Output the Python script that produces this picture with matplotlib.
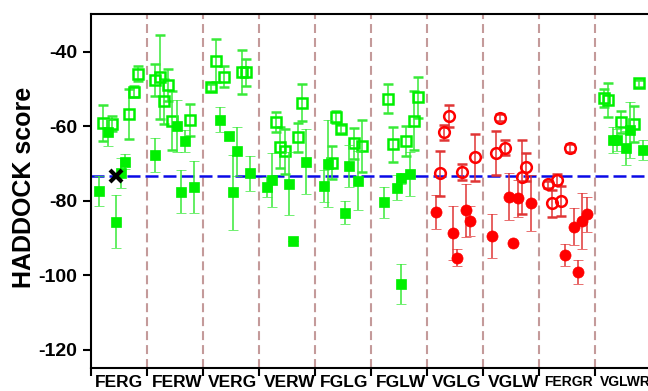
import numpy as np
import matplotlib
matplotlib.use("Agg")
import matplotlib.pyplot as plt
import matplotlib.transforms as mtrans

plt.rcParams['font.family'] = ['Liberation Sans', 'DejaVu Sans']
plt.rcParams['axes.unicode_minus'] = False

groups = ["FERG", "FERW", "VERG", "VERW", "FGLG", "FGLW", "VGLG", "VGLW", "FERGR", "VGLWR"]
group_kind = ["g", "g", "g", "g", "g", "g", "r", "r", "r", "g"]

# slot index (0-9) of each run inside its group
open_slot = [[1, 3, 7, 8, 9], [0, 1, 2, 3, 4, 8], [0, 1, 3, 7, 8], [2, 3, 4, 7, 8],
             [2, 3, 4, 7, 9], [2, 3, 6, 8, 9], [1, 2, 3, 6, 9], [1, 2, 3, 7, 8],
             [0, 1, 2, 3, 5], [0, 1, 4, 7, 8]]
open_score = [[-59.2, -59.4, -56.7, -50.8, -45.9],
              [-47.6, -46.8, -53.3, -48.9, -58.5, -58.3],
              [-49.6, -42.4, -46.7, -45.5, -45.6],
              [-58.8, -65.7, -66.8, -63.0, -53.7],
              [-69.8, -57.6, -60.8, -64.6, -65.3],
              [-52.6, -64.9, -63.9, -58.5, -52.3],
              [-72.7, -61.7, -57.2, -72.3, -68.4],
              [-67.2, -57.7, -65.8, -73.7, -70.9],
              [-75.6, -80.7, -74.4, -80.1, -65.9],
              [-52.5, -53.0, -58.9, -59.4, -48.5]]
open_err = [[4.8, 2.0, 6.7, 1.5, 2.0],
            [4.3, 11.3, 6.0, 4.3, 8.0, 4.3],
            [1.0, 5.7, 2.9, 6.0, 3.5],
            [2.7, 5.6, 6.0, 3.9, 5.0],
            [4.5, 1.6, 1.0, 4.2, 7.0],
            [4.0, 4.8, 4.0, 7.8, 5.5],
            [6.1, 2.0, 3.0, 2.2, 6.3],
            [5.8, 1.0, 2.0, 10.0, 3.8],
            [1.0, 3.7, 1.5, 4.0, 1.0],
            [2.5, 4.5, 3.0, 4.8, 1.0]]

filled_slot = [[0, 2, 4, 5, 6], [0, 5, 6, 7, 9], [2, 4, 5, 6, 9], [0, 1, 5, 6, 9],
               [0, 1, 5, 6, 8], [1, 4, 5, 7, 5], [0, 4, 5, 7, 8], [0, 4, 5, 6, 9],
               [4, 6, 7, 8, 9], [2, 3, 5, 6, 9]]
filled_score = [[-77.5, -61.7, -85.6, -72.6, -69.5],
                [-67.7, -59.9, -77.6, -64.0, -76.4],
                [-58.3, -62.6, -77.8, -66.8, -72.7],
                [-76.3, -74.4, -75.4, -90.7, -69.6],
                [-76.0, -70.1, -83.2, -70.6, -74.6],
                [-80.4, -76.5, -74.0, -72.9, -102.4],
                [-83.0, -88.6, -95.3, -82.6, -85.5],
                [-89.5, -78.9, -91.4, -79.4, -80.7],
                [-94.6, -87.0, -99.1, -85.4, -83.7],
                [-63.7, -63.7, -65.9, -61.0, -66.4]]
filled_err = [[4.0, 3.6, 7.2, 4.0, 2.0],
              [4.5, 7.0, 5.8, 3.0, 7.0],
              [3.3, 1.0, 10.0, 6.7, 4.8],
              [2.7, 7.3, 8.5, 0.0, 8.7],
              [4.3, 11.7, 3.0, 5.6, 7.8],
              [4.2, 3.4, 1.5, 5.9, 5.4],
              [4.6, 7.3, 2.3, 7.2, 4.1],
              [6.0, 6.3, 0.0, 5.0, 7.5],
              [3.0, 5.0, 3.2, 7.5, 4.6],
              [3.5, 3.0, 4.5, 7.5, 2.7]]

ref_group = 0
ref_slot = 4
ref_score = -73.3
threshold = -73.3

colors = {"g": ("#00f000", "#38ea38"), "r": ("#ff0000", "#e03535")}
markers = {"g": "s", "r": "o"}


def slot_x(g, s):
    return g + (s + 2) / 13.0


fig = plt.figure(figsize=(6.48, 3.91), dpi=100)
ax = fig.add_axes([90.5 / 648, 1 - 367.7 / 391, 561 / 648, 353.4 / 391])

for i in range(1, len(groups)):
    ax.axvline(i, color="#c49a9a", lw=1.5, ls=(0, (4.3, 2.4)), zorder=1)

ax.axhline(threshold, color="#0a0ae6", lw=1.8, ls=(0, (5.2, 2.0)), zorder=2)

for g in range(len(groups)):
    k = group_kind[g]
    mcol, ecol = colors[k]
    m = markers[k]
    ms = 7.0 if m == "s" else 8.0
    xo = [slot_x(g, s) for s in open_slot[g]]
    ax.errorbar(xo, open_score[g], yerr=open_err[g], fmt=m, ms=ms - 0.3,
                mfc="none", mec=mcol, mew=1.8, ecolor=ecol, elinewidth=1.1,
                capsize=3.8, capthick=1.1, zorder=3)
    xf = [slot_x(g, s) for s in filled_slot[g]]
    ax.errorbar(xf, filled_score[g], yerr=filled_err[g], fmt=m, ms=ms,
                mfc=mcol, mec=mcol, mew=0.5, ecolor=ecol, elinewidth=1.1,
                capsize=3.8, capthick=1.1, zorder=4)

ax.plot(slot_x(ref_group, ref_slot), ref_score, marker="x", color="black",
        ms=8, mew=3, zorder=6, clip_on=False)

ax.set_xlim(0, len(groups))
ax.set_ylim(-124.8, -30)
ax.set_yticks([-120, -100, -80, -60, -40])
ax.set_xticks(np.arange(len(groups) + 1))
ax.set_xticklabels([])
ax.tick_params(axis="both", direction="out", length=6.0, width=1.5)
ax.tick_params(axis="y", labelsize=14, pad=3.5)
for lbl in ax.get_yticklabels():
    lbl.set_fontweight("bold")

for sp in ["left", "top", "bottom"]:
    ax.spines[sp].set_linewidth(1.5)
ax.spines["right"].set_visible(False)

ax.set_ylabel("HADDOCK score", fontsize=18, fontweight="bold")
ax.yaxis.set_label_coords(-0.097, 0.51)

trans = mtrans.blended_transform_factory(ax.transData, ax.transAxes)
offs = mtrans.offset_copy(trans, fig=fig, x=3.5, y=-5.5, units="points")
for i, name in enumerate(groups):
    size = 10 if len(name) > 4 else 12.5
    ax.text(i, 0, name, transform=offs, ha="left", va="top",
            fontsize=size, fontweight="bold")

fig.savefig("out.png", dpi=100)
